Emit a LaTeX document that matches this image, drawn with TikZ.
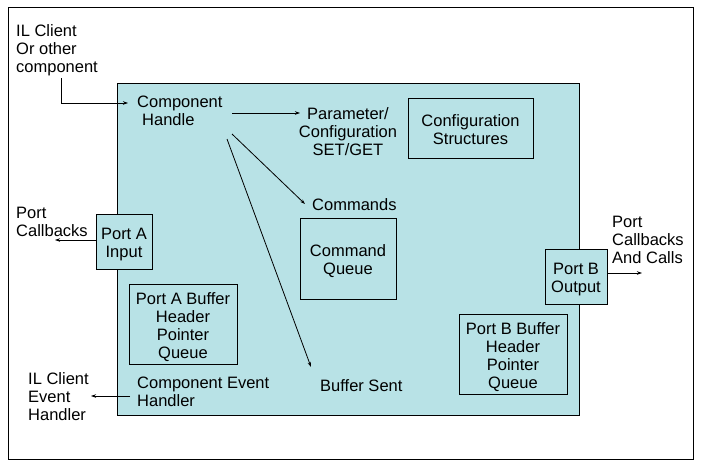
\documentclass[tikz,border=0pt]{standalone}
\usepackage{fontspec}
\setmainfont{Liberation Sans}
\usetikzlibrary{arrows.meta}
\definecolor{cyanbg}{RGB}{184,226,230}
\tikzset{
  txt/.style={inner sep=0pt, font=\fontsize{16.5}{18}\selectfont},
  box/.style={draw, line width=0.9pt, fill=cyanbg, inner sep=0pt},
  boxtxt/.style={txt, align=center},
  arr/.style={line width=0.8pt, -{Stealth[length=5pt,width=3.5pt]}},
}
\begin{document}
\begin{tikzpicture}[x=1pt,y=-1pt]
\useasboundingbox (0,0) rectangle (704,461);
\draw[line width=0.9pt] (8,7) rectangle (693,459);
% main component box
\node[box, anchor=north west, minimum width=462pt, minimum height=332pt] (comp) at (117,83) {};
% inner boxes
\node[box, minimum width=56pt, minimum height=55pt] (porta) at (124,241.5) {};
\node[box, minimum width=62pt, minimum height=55pt] (portb) at (576,276.5) {};
\node[box, minimum width=125pt, minimum height=60pt] (cfg) at (470.5,128) {};
\node[box, minimum width=96pt, minimum height=81pt] (cmdq) at (348,258.5) {};
\node[box, minimum width=108pt, minimum height=80pt] (pabuf) at (183,324) {};
\node[box, minimum width=108pt, minimum height=80pt] (pbbuf) at (513,354) {};
% box texts
\node[boxtxt] (portat) at ([yshift=-3pt]porta.center) {Port A\\Input};
\node[boxtxt] (portbt) at ([yshift=-3pt]portb.center) {Port B\\Output};
\node[boxtxt] (cfgt) at ([yshift=-1.5pt]cfg.center) {Configuration\\Structures};
\node[boxtxt] (cmdqt) at ([yshift=-3pt]cmdq.center) {Command\\Queue};
\node[boxtxt] (pabuft) at ([yshift=-3pt]pabuf.center) {Port A Buffer\\Header\\Pointer\\Queue};
\node[boxtxt] (pbbuft) at ([yshift=-3pt]pbbuf.center) {Port B Buffer\\Header\\Pointer\\Queue};
% texts
\node[txt, anchor=west, align=left] (ilc) at (16,50) {IL Client\\Or other\\component};
\node[txt, anchor=west, align=left] (ch) at (137,111) {Component\\\hspace*{5pt}Handle};
\node[txt, align=center] (param) at (348,132) {Parameter/\\Configuration\\SET/GET};
\node[txt, anchor=west] (cmds) at (312,205) {Commands};
\node[txt, anchor=west] (bsent) at (320,386) {Buffer Sent};
\node[txt, anchor=west, align=left] (ceh) at (137,392) {Component Event\\Handler};
\node[txt, anchor=west, align=left] (ilceh) at (28,397) {IL Client\\Event\\Handler};
\node[txt, anchor=west, align=left] (pcb) at (16,222) {Port\\Callbacks};
\node[txt, anchor=west, align=left] (pcbc) at (612,240) {Port\\Callbacks\\And Calls};
% connector end points
\coordinate (ilcs) at (61,78);
\coordinate (che) at (128,103);
\coordinate (ch1) at (232,113);
\coordinate (pe) at (300,113);
\coordinate (ch2) at (232,134);
\coordinate (cmde) at (305,204);
\coordinate (ch3) at (227,139);
\coordinate (bse) at (311,367);
\coordinate (pcbe) at (55,240);
\coordinate (cehs) at (130,396);
\coordinate (ilcehe) at (91,396);
\coordinate (pbe) at (642,273);
% connectors
\draw[arr] (ilcs) |- (che);
\draw[arr] (ch1) -- (pe);
\draw[arr] (ch2) -- (cmde);
\draw[arr] (ch3) -- (bse);
\draw[arr] (porta.west |- pcbe) -- (pcbe);
\draw[arr] (cehs) -- (ilcehe);
\draw[arr] (portb.east |- pbe) -- (pbe);
\end{tikzpicture}
\end{document}
